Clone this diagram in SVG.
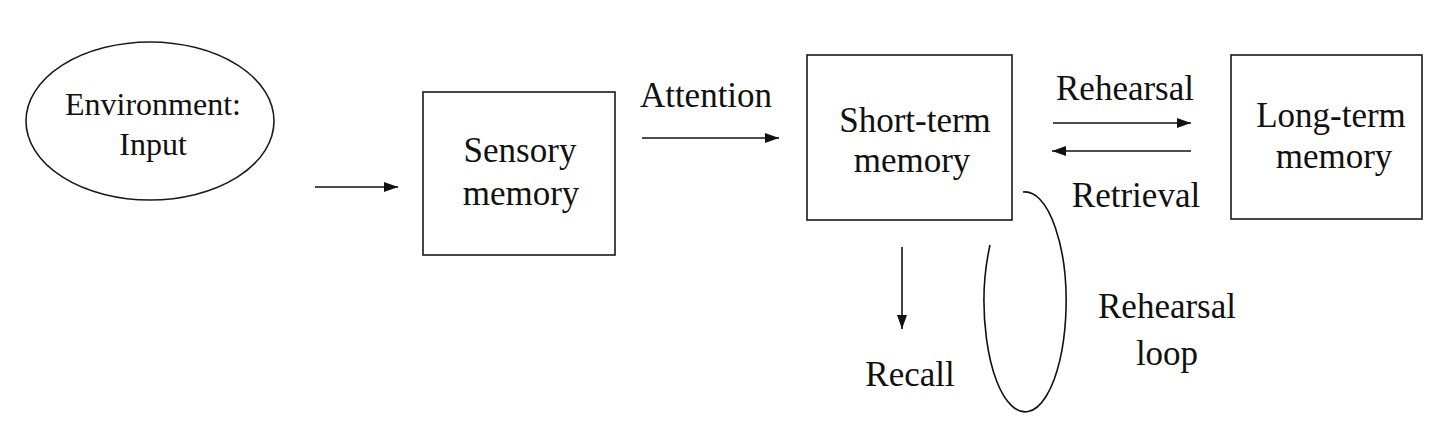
<svg xmlns="http://www.w3.org/2000/svg" width="1456" height="426" viewBox="0 0 1456 426">
  <style>
    .shape { fill: #ffffff; stroke: #1a1a1a; stroke-width: 1.6; }
    .lbl { font-family: "Liberation Serif", "Times New Roman", serif; font-size: 35px; fill: #111111; text-anchor: middle; }
    .conn { fill: none; stroke: #111111; stroke-width: 1.6; }
  </style>
  <defs>
    <marker id="arrow" markerUnits="userSpaceOnUse" markerWidth="16" markerHeight="12" refX="14" refY="6" orient="auto">
      <path d="M0,1 L14,6 L0,11 Z" fill="#111111"/>
    </marker>
  </defs>
  <rect width="1456" height="426" fill="#ffffff"/>

  <g id="environment">
    <ellipse class="shape" cx="150" cy="121" rx="124" ry="79"/>
    <text class="lbl" x="153" y="115" style="font-size:32px">Environment:</text>
    <text class="lbl" x="153" y="155" style="font-size:32px">Input</text>
  </g>

  <g id="sensory-memory">
    <rect class="shape" x="423" y="92" width="192" height="163"/>
    <text class="lbl" x="520" y="162">Sensory</text>
    <text class="lbl" x="521" y="205">memory</text>
  </g>

  <g id="short-term-memory">
    <rect class="shape" x="807" y="55" width="205" height="165"/>
    <text class="lbl" x="915" y="132">Short-term</text>
    <text class="lbl" x="912" y="172">memory</text>
  </g>

  <g id="long-term-memory">
    <rect class="shape" x="1231" y="55" width="191" height="164"/>
    <text class="lbl" x="1331" y="127">Long-term</text>
    <text class="lbl" x="1334" y="168">memory</text>
  </g>

  <g id="connectors">
    <line class="conn" x1="315" y1="187" x2="398" y2="187" marker-end="url(#arrow)"/>
    <line class="conn" x1="642" y1="138" x2="779" y2="138" marker-end="url(#arrow)"/>
    <line class="conn" x1="1053" y1="123" x2="1191" y2="123" marker-end="url(#arrow)"/>
    <line class="conn" x1="1191" y1="151" x2="1052" y2="151" marker-end="url(#arrow)"/>
    <line class="conn" x1="902" y1="247" x2="902" y2="329" marker-end="url(#arrow)"/>
    <path class="conn" d="M 1023 192 A 41 110 0 1 1 990 245"/>
  </g>

  <g id="labels">
    <text class="lbl" x="706" y="107">Attention</text>
    <text class="lbl" x="1125" y="100">Rehearsal</text>
    <text class="lbl" x="1136" y="207">Retrieval</text>
    <text class="lbl" x="910" y="386">Recall</text>
    <text class="lbl" x="1167" y="318">Rehearsal</text>
    <text class="lbl" x="1167" y="365">loop</text>
  </g>
</svg>
